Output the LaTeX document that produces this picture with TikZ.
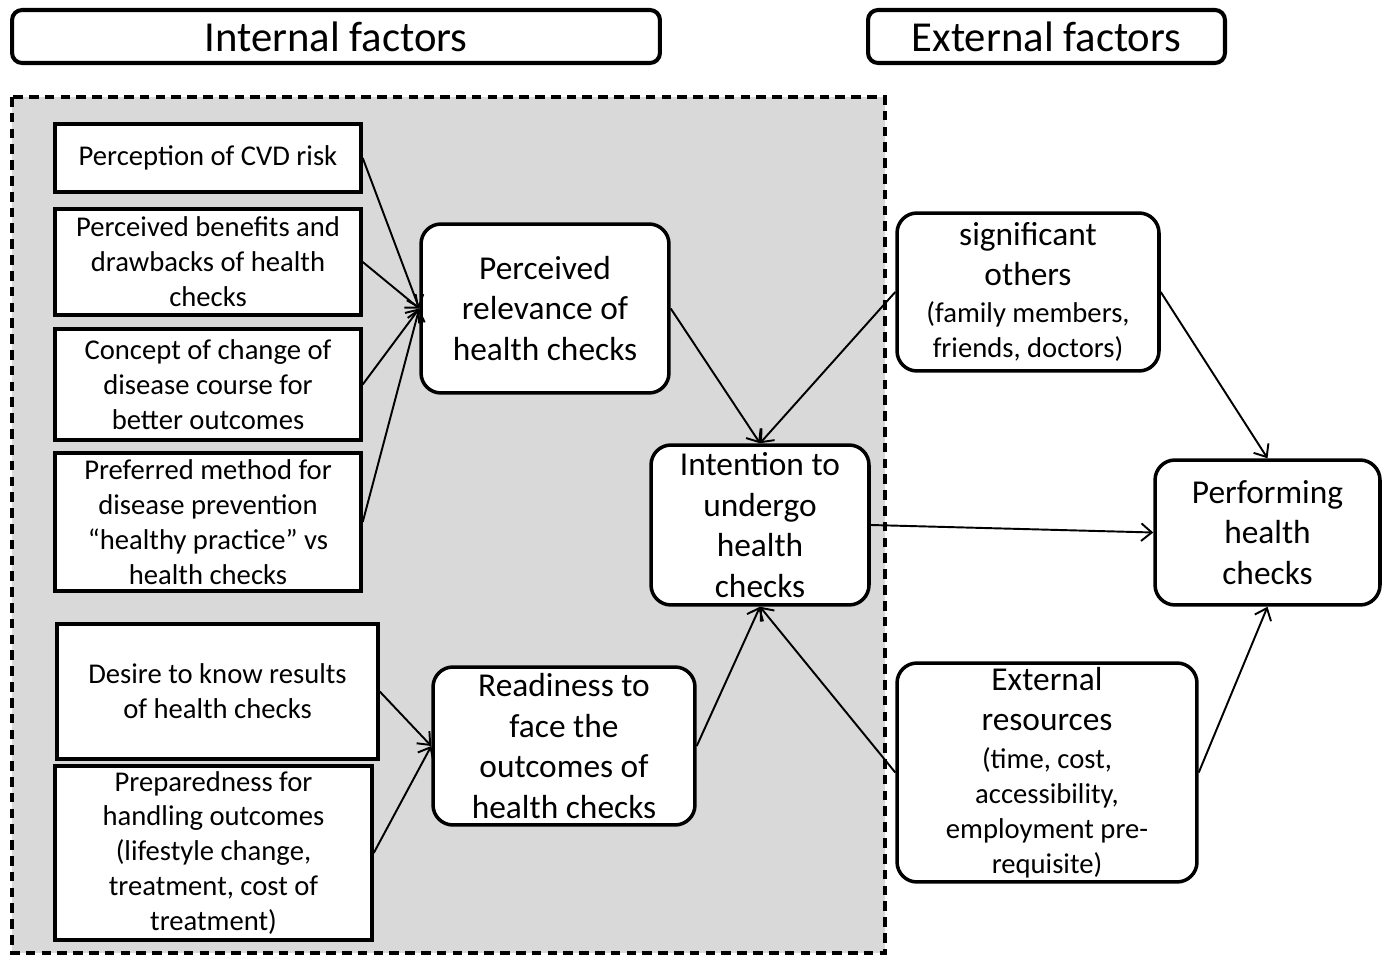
\documentclass[tikz,border=0pt]{standalone}
\usepackage{fontspec}
\setmainfont{Carlito}
\usetikzlibrary{arrows.meta}
\definecolor{panelgray}{RGB}{217,217,217}
\newcommand{\bigtxt}{\fontsize{19pt}{23pt}\selectfont}
\newcommand{\smalltxt}{\fontsize{16.3pt}{19.9pt}\selectfont}

\begin{document}
\begin{tikzpicture}[x=0.02cm, y=-0.02cm,
    head/.style={draw, line width=2.3pt, rounded corners=0.2cm, minimum height=1.06cm, inner sep=0pt,
                 font=\fontsize{24.3pt}{29pt}\selectfont},
    sq/.style={draw, fill=white, line width=2pt, align=center, inner sep=0pt, font=\smalltxt},
    rbox/.style={draw, fill=white, line width=2pt, rounded corners=0.4cm, align=center, inner sep=0pt, font=\bigtxt},
    arr/.style={-{Straight Barb[length=6pt,width=10pt]}, line width=1.1pt}]
    \useasboundingbox (0,0) rectangle (1388,955);

    % --- Headers ---
    \node[head, minimum width=12.96cm] (hin) at (336,36.5) {Internal factors};
    \node[head, minimum width=7.14cm] (hex) at (1046.5,36.5) {External factors};

    % --- Internal area (grey, dashed) ---
    \draw[line width=2pt, dash pattern=on 5.5pt off 3.5pt, fill=panelgray] (12,97) rectangle (885,953);

    % --- Internal factor boxes ---
    \node[sq, minimum width=6.12cm, minimum height=1.36cm] (cvd) at (208,158) {Perception of CVD risk};
    \node[sq, minimum width=6.12cm, minimum height=2.12cm] (benefit) at (208,262)
        {Perceived benefits and\\drawbacks of health\\checks};
    \node[sq, minimum width=6.12cm, minimum height=2.22cm] (concept) at (208,384.5)
        {Concept of change of\\disease course for\\better outcomes};
    \node[sq, minimum width=6.12cm, minimum height=2.76cm] (method) at (208,522)
        {Preferred method for\\disease prevention\\``healthy practice'' vs\\health checks};
    \node[sq, minimum width=6.42cm, minimum height=2.7cm] (desire) at (217.5,691.5)
        {Desire to know results\\of health checks};
    \node[sq, minimum width=6.34cm, minimum height=3.48cm] (prepare) at (213.5,853)
        {Preparedness for\\handling outcomes\\(lifestyle change,\\treatment, cost of\\treatment)};

    % --- Middle boxes ---
    \node[rbox, minimum width=4.96cm, minimum height=3.38cm] (relev) at (545,308.5)
        {Perceived\\relevance of\\health checks};
    \node[rbox, minimum width=5.24cm, minimum height=3.16cm] (ready) at (564,746)
        {Readiness to\\face the\\outcomes of\\health checks};
    \node[rbox, minimum width=4.36cm, minimum height=3.2cm] (intent) at (760,525)
        {Intention to\\undergo\\health\\checks};

    % --- External factor boxes (mixed sizes) ---
    \node[rbox, font=\smalltxt, minimum width=5.24cm, minimum height=3.16cm] (others) at (1028,292)
        {\bigtxt significant\\[2.8pt]\bigtxt others\\[1.7pt](family members,\\friends, doctors)};
    \node[rbox, font=\smalltxt, minimum width=6cm, minimum height=4.38cm] (extres) at (1047,772.5)
        {\bigtxt External\\[2.8pt]\bigtxt resources\\[1.7pt](time, cost,\\accessibility,\\employment pre-\\requisite)};
    \node[rbox, minimum width=4.5cm, minimum height=2.9cm] (perform) at (1267.5,532.5)
        {Performing\\health\\checks};

    % --- Connectors ---
    \draw[arr] (cvd.east) -- (relev.west);
    \draw[arr] (benefit.east) -- (relev.west);
    \draw[arr] (concept.east) -- (relev.west);
    \draw[arr] (method.east) -- (relev.west);
    \draw[arr] (desire.east) -- (ready.west);
    \draw[arr] (prepare.east) -- (ready.west);
    \draw[arr] (relev.east) -- (intent.north);
    \draw[arr] (others.west) -- (intent.north);
    \draw[arr] (ready.east) -- (intent.south);
    \draw[arr] (extres.west) -- (intent.south);
    \draw[arr] (intent.east) -- (perform.west);
    \draw[arr] (others.east) -- (perform.north);
    \draw[arr] (extres.east) -- (perform.south);
\end{tikzpicture}
\end{document}
